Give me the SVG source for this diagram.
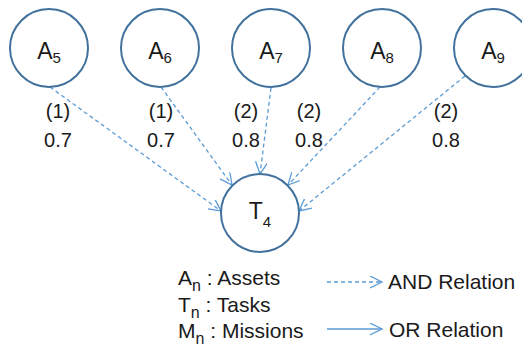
<svg xmlns="http://www.w3.org/2000/svg" width="522" height="349" viewBox="0 0 522 349">
<style>
  .node { fill: #ffffff; stroke: #41719C; stroke-width: 2; }
  .lbl { font-family: "Liberation Sans", Arial, sans-serif; fill: #1a1a1a; }
  .nt { font-size: 23px; text-anchor: middle; }
  .sub { font-size: 15px; }
  .lsub { font-size: 16px; }
  .w { font-size: 20px; text-anchor: middle; }
  .leg { font-size: 21px; }
  .and { fill: none; stroke: #5B9BD5; stroke-width: 1.3; stroke-dasharray: 4 3; marker-end: url(#arr); }
  .or { fill: none; stroke: #5B9BD5; stroke-width: 1.3; marker-end: url(#arr); }
</style>
<defs>
  <marker id="arr" markerUnits="userSpaceOnUse" markerWidth="14" markerHeight="14" refX="12" refY="6" orient="auto" viewBox="0 0 14 14">
    <path d="M0,0 L12,6 L0,12" fill="none" stroke="#5B9BD5" stroke-width="1.3"/>
  </marker>
</defs>
<rect width="522" height="349" fill="#ffffff"/>
<g id="connectors">
  <line class="and" x1="50" y1="87" x2="221" y2="211"/>
  <line class="and" x1="161" y1="87" x2="232" y2="185"/>
  <line class="and" x1="271" y1="88" x2="260" y2="174"/>
  <line class="and" x1="380" y1="87" x2="288" y2="185"/>
  <line class="and" x1="465" y1="76" x2="299" y2="211"/>
</g>
<g id="labels" class="lbl">
  <text class="w" x="58" y="118">(1)</text><text class="w" x="58" y="147">0.7</text>
  <text class="w" x="161" y="118">(1)</text><text class="w" x="161" y="147">0.7</text>
  <text class="w" x="246" y="118">(2)</text><text class="w" x="246" y="147">0.8</text>
  <text class="w" x="309" y="118">(2)</text><text class="w" x="309" y="147">0.8</text>
  <text class="w" x="446" y="118">(2)</text><text class="w" x="446" y="147">0.8</text>
</g>
<g id="A5"><circle class="node" cx="49" cy="48" r="39"/><text class="lbl nt" x="49" y="59">A<tspan class="sub" dy="4">5</tspan></text></g>
<g id="A6"><circle class="node" cx="160" cy="48" r="39"/><text class="lbl nt" x="160" y="59">A<tspan class="sub" dy="4">6</tspan></text></g>
<g id="A7"><circle class="node" cx="271" cy="48" r="39"/><text class="lbl nt" x="271" y="59">A<tspan class="sub" dy="4">7</tspan></text></g>
<g id="A8"><circle class="node" cx="382" cy="48" r="39"/><text class="lbl nt" x="382" y="59">A<tspan class="sub" dy="4">8</tspan></text></g>
<g id="A9"><circle class="node" cx="493" cy="48" r="39"/><text class="lbl nt" x="493" y="59">A<tspan class="sub" dy="4">9</tspan></text></g>
<g id="T4"><circle class="node" cx="260" cy="213" r="39"/><text class="lbl nt" x="260" y="219">T<tspan class="sub" dy="8">4</tspan></text></g>
<g id="legend">
  <text class="lbl leg" x="178" y="285">A<tspan class="lsub" dy="6">n</tspan><tspan dy="-6"> : Assets</tspan></text>
  <text class="lbl leg" x="178" y="312">T<tspan class="lsub" dy="6">n</tspan><tspan dy="-6"> : Tasks</tspan></text>
  <text class="lbl leg" x="178" y="338">M<tspan class="lsub" dy="6">n</tspan><tspan dy="-6"> : Missions</tspan></text>
  <line class="and" x1="327" y1="282" x2="382" y2="282"/>
  <line class="or" x1="327" y1="329" x2="382" y2="329"/>
  <text class="lbl" font-size="21" x="388" y="289">AND Relation</text>
  <text class="lbl" font-size="21" x="389" y="337">OR Relation</text>
</g>
</svg>
